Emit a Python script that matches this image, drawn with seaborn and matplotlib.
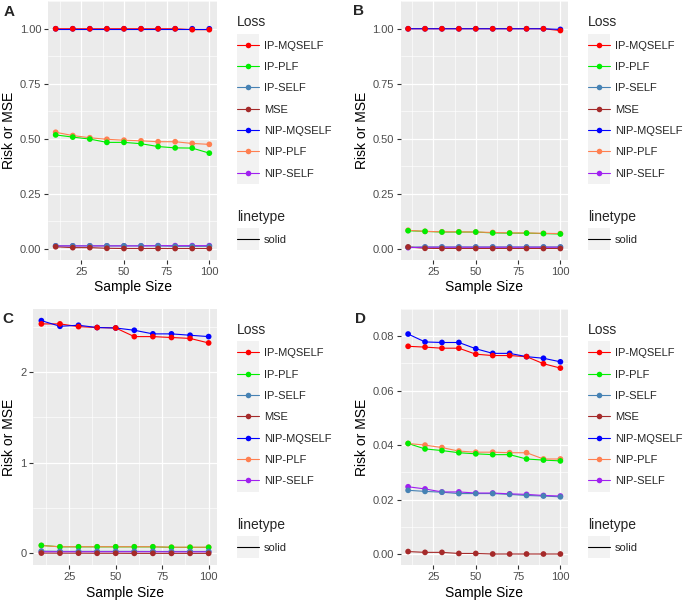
import pandas as pd
import matplotlib
matplotlib.use("Agg")
import matplotlib.pyplot as plt
from matplotlib.lines import Line2D
from matplotlib.patches import Rectangle
from matplotlib.legend_handler import HandlerLine2D
import seaborn as sns

# Data
sample_size = [10, 20, 30, 40, 50, 60, 70, 80, 90, 100]
losses = ["IP-MQSELF", "IP-PLF", "IP-SELF", "MSE", "NIP-MQSELF", "NIP-PLF", "NIP-SELF"]
loss_colors = ["#FF0000", "#00EE00", "#4682B4", "#A52A2A", "#0000FF", "#FF7F50", "#A020F0"]
# points drawn in this order (last on top)
point_order = ["NIP-MQSELF", "NIP-PLF", "NIP-SELF", "IP-MQSELF", "IP-PLF", "IP-SELF", "MSE"]

# Panel A
a_ip_mqself = [1.0, 1.0, 1.0, 1.0, 1.0, 1.0, 1.0, 1.0, 0.996, 0.996]
a_ip_plf = [0.517, 0.507, 0.498, 0.483, 0.483, 0.477, 0.464, 0.458, 0.457, 0.434]
a_ip_self = [0.012, 0.012, 0.012, 0.012, 0.012, 0.012, 0.012, 0.010, 0.010, 0.010]
a_mse = [0.008, 0.004, 0.004, 0.001, 0.0, 0.0, 0.0, 0.0, 0.0, 0.0]
a_nip_mqself = [1.0, 1.0, 1.0, 1.0, 1.0, 1.0, 1.0, 1.0, 1.0, 1.0]
a_nip_plf = [0.529, 0.514, 0.504, 0.497, 0.493, 0.490, 0.486, 0.486, 0.478, 0.474]
a_nip_self = [0.012, 0.012, 0.012, 0.012, 0.012, 0.012, 0.013, 0.013, 0.013, 0.013]

# Panel B
b_ip_mqself = [1.0, 1.0, 1.0, 1.0, 1.0, 1.0, 1.0, 1.0, 1.0, 0.992]
b_ip_plf = [0.081, 0.078, 0.075, 0.075, 0.075, 0.071, 0.070, 0.070, 0.068, 0.066]
b_ip_self = [0.006, 0.007, 0.007, 0.007, 0.007, 0.007, 0.007, 0.007, 0.007, 0.007]
b_mse = [0.007, 0.001, 0.0, 0.0, 0.0, 0.0, 0.0, 0.0, 0.0, 0.0]
b_nip_mqself = [1.0, 1.0, 1.0, 1.0, 1.0, 1.0, 1.0, 1.0, 1.0, 0.997]
b_nip_plf = [0.083, 0.078, 0.076, 0.076, 0.075, 0.073, 0.071, 0.071, 0.069, 0.068]
b_nip_self = [0.004, 0.006, 0.006, 0.006, 0.006, 0.006, 0.006, 0.006, 0.006, 0.006]

# Panel C
c_ip_mqself = [2.53, 2.53, 2.50, 2.49, 2.485, 2.39, 2.39, 2.38, 2.37, 2.32]
c_ip_plf = [0.088, 0.072, 0.072, 0.072, 0.072, 0.072, 0.072, 0.066, 0.066, 0.066]
c_ip_self = [0.025, 0.022, 0.022, 0.022, 0.022, 0.022, 0.021, 0.021, 0.021, 0.021]
c_mse = [0.003, 0.002, 0.002, 0.001, 0.001, 0.0, 0.0, 0.0, 0.0, 0.0]
c_nip_mqself = [2.566, 2.504, 2.515, 2.49, 2.485, 2.46, 2.42, 2.42, 2.405, 2.39]
c_nip_plf = [0.086, 0.073, 0.073, 0.073, 0.073, 0.073, 0.073, 0.068, 0.068, 0.068]
c_nip_self = [0.018, 0.018, 0.018, 0.018, 0.018, 0.018, 0.018, 0.017, 0.017, 0.017]

# Panel D
d_ip_mqself = [0.0763, 0.0760, 0.0756, 0.0756, 0.0734, 0.0729, 0.0729, 0.0725, 0.0699, 0.0683]
d_ip_plf = [0.0406, 0.0386, 0.0380, 0.0372, 0.0368, 0.0365, 0.0365, 0.0349, 0.0345, 0.0342]
d_ip_self = [0.0234, 0.0230, 0.0227, 0.0222, 0.0222, 0.0222, 0.0219, 0.0215, 0.0213, 0.0210]
d_mse = [0.0009, 0.0006, 0.0006, 0.0002, 0.0002, 0.0, 0.0, 0.0, 0.0, 0.0]
d_nip_mqself = [0.0808, 0.0779, 0.0777, 0.0777, 0.0754, 0.0737, 0.0737, 0.0725, 0.0719, 0.0706]
d_nip_plf = [0.0406, 0.0400, 0.0391, 0.0378, 0.0374, 0.0374, 0.0372, 0.0372, 0.0349, 0.0349]
d_nip_self = [0.0247, 0.0239, 0.0228, 0.0228, 0.0224, 0.0224, 0.0221, 0.0219, 0.0215, 0.0213]

x_ticks = [25, 50, 75, 100]
ab_yticks = [0.0, 0.25, 0.5, 0.75, 1.0]
ab_ylabels = ["0.00", "0.25", "0.50", "0.75", "1.00"]
c_yticks = [0, 1, 2]
c_ylabels = ["0", "1", "2"]
d_yticks = [0.0, 0.02, 0.04, 0.06, 0.08]
d_ylabels = ["0.00", "0.02", "0.04", "0.06", "0.08"]

W, H = 685, 602


def px_box(left, top, right, bottom):
    return [left / W, 1 - bottom / H, (right - left) / W, (bottom - top) / H]


def make_frame(series):
    rows = []
    for loss, vals in zip(losses, series):
        for n, v in zip(sample_size, vals):
            rows.append((n, v, loss))
    return pd.DataFrame(rows, columns=["n", "value", "Loss"])


class KeyHandler(HandlerLine2D):
    # ggplot-like grey key background behind each legend key
    def create_artists(self, legend, orig_handle, xdescent, ydescent,
                       width, height, fontsize, trans):
        artists = super().create_artists(legend, orig_handle, xdescent, ydescent,
                                         width, height, fontsize, trans)
        key_h = 16.0
        bg = Rectangle((-xdescent, -ydescent + height / 2 - key_h / 2), width, key_h,
                       facecolor="#F2F2F2", edgecolor="none", transform=trans)
        return [bg] + artists


sns.set_theme(style="darkgrid", rc={
    "axes.facecolor": "#EBEBEB",
    "axes.linewidth": 0,
    "grid.color": "white",
    "xtick.bottom": True,
    "ytick.left": True,
    "xtick.color": "#333333",
    "ytick.color": "#333333",
    "xtick.labelcolor": "#4D4D4D",
    "ytick.labelcolor": "#4D4D4D",
    "xtick.major.size": 2.8,
    "ytick.major.size": 2.8,
    "xtick.major.width": 0.8,
    "ytick.major.width": 0.8,
    "xtick.major.pad": 2.5,
    "ytick.major.pad": 2.0,
    "xtick.labelsize": 8,
    "ytick.labelsize": 8,
})
plt.rcParams["font.family"] = ["Liberation Sans", "DejaVu Sans"]

palette = dict(zip(losses, loss_colors))

panels = [
    ("A", [a_ip_mqself, a_ip_plf, a_ip_self, a_mse, a_nip_mqself, a_nip_plf, a_nip_self],
     ab_yticks, ab_ylabels, px_box(48, 1.3, 217, 259.5), (9, 12), 237, 9.5),
    ("B", [b_ip_mqself, b_ip_plf, b_ip_self, b_mse, b_nip_mqself, b_nip_plf, b_nip_self],
     ab_yticks, ab_ylabels, px_box(400.5, 1.3, 568, 259.5), (359, 11), 588, 362),
    ("C", [c_ip_mqself, c_ip_plf, c_ip_self, c_mse, c_nip_mqself, c_nip_plf, c_nip_self],
     c_yticks, c_ylabels, px_box(33, 309, 217, 565), (8, 318.5), 237, 9.5),
    ("D", [d_ip_mqself, d_ip_plf, d_ip_self, d_mse, d_nip_mqself, d_nip_plf, d_nip_self],
     d_yticks, d_ylabels, px_box(400.5, 309, 568, 565), (360, 318.5), 588, 362),
]

fig = plt.figure(figsize=(6.85, 6.02), dpi=100)

for tag, series, yticks, ylabels, box, tag_pos, leg_x, ylab_x in panels:
    ax = fig.add_axes(box)
    df = make_frame(series)

    sns.lineplot(data=df, x="n", y="value", hue="Loss", hue_order=losses,
                 palette=palette, linewidth=0.8, legend=False, ax=ax)
    pts = df.copy()
    pts["order"] = pts["Loss"].map({k: i for i, k in enumerate(point_order)})
    pts = pts.sort_values("order")
    sns.scatterplot(data=pts, x="n", y="value", hue="Loss", palette=palette,
                    s=17, linewidth=0, legend=False, ax=ax, zorder=3)

    # ggplot-style 5% expansion
    lo, hi = df["value"].min(), df["value"].max()
    pad = (hi - lo) * 0.05
    ax.set_ylim(lo - pad, hi + pad)
    ax.set_xlim(5.5, 104.5)

    ax.set_xticks(x_ticks)
    ax.set_yticks(yticks)
    ax.set_yticklabels(ylabels)
    ax.set_xticks([12.5, 37.5, 62.5, 87.5], minor=True)
    step = yticks[1] - yticks[0]
    ax.set_yticks([t + step / 2 for t in yticks], minor=True)
    ax.tick_params(which="minor", length=0)
    ax.grid(which="major", color="white", linewidth=0.9)
    ax.grid(which="minor", color="white", linewidth=0.45)
    ax.set_axisbelow(True)

    # axis titles placed in pixels
    top_px = (1 - box[1] - box[3]) * H
    bot_px = (1 - box[1]) * H
    left_px = box[0] * W
    ax.set_xlabel("Sample Size", fontsize=10, color="black", va="center")
    ax.xaxis.set_label_coords(0.5, -(287.5 - 259.5) / (bot_px - top_px))
    ax.set_ylabel("Risk or MSE", fontsize=10, color="black", va="center")
    ax.yaxis.set_label_coords((ylab_x - left_px) / (box[2] * W), 0.5)

    fig.text(tag_pos[0] / W, 1 - tag_pos[1] / H, tag, fontsize=11, fontweight="bold",
             ha="center", va="center")

    # legends
    handles = [Line2D([], [], color=c, linewidth=0.8, marker="o", markersize=4,
                      markeredgewidth=0) for c in loss_colors]
    leg_top = top_px + 14
    leg1 = ax.legend(handles, losses, loc="upper left",
                     bbox_to_anchor=(leg_x / W, 1 - leg_top / H),
                     bbox_transform=fig.transFigure, frameon=False, borderpad=0,
                     borderaxespad=0, title="Loss", alignment="left",
                     handlelength=2.0, handletextpad=0.45, labelspacing=1.02,
                     fontsize=8, title_fontsize=10,
                     handler_map={Line2D: KeyHandler(numpoints=1)})
    ax.add_artist(leg1)
    lt_handle = [Line2D([], [], color="black", linewidth=0.8)]
    ax.legend(lt_handle, ["solid"], loc="upper left",
              bbox_to_anchor=(leg_x / W, 1 - (leg_top + 194.5) / H),
              bbox_transform=fig.transFigure, frameon=False, borderpad=0,
              borderaxespad=0, title="linetype", alignment="left",
              handlelength=2.0, handletextpad=0.45, labelspacing=1.0,
              fontsize=8, title_fontsize=10,
              handler_map={Line2D: KeyHandler(numpoints=1)})

fig.savefig("out.png", dpi=100)
